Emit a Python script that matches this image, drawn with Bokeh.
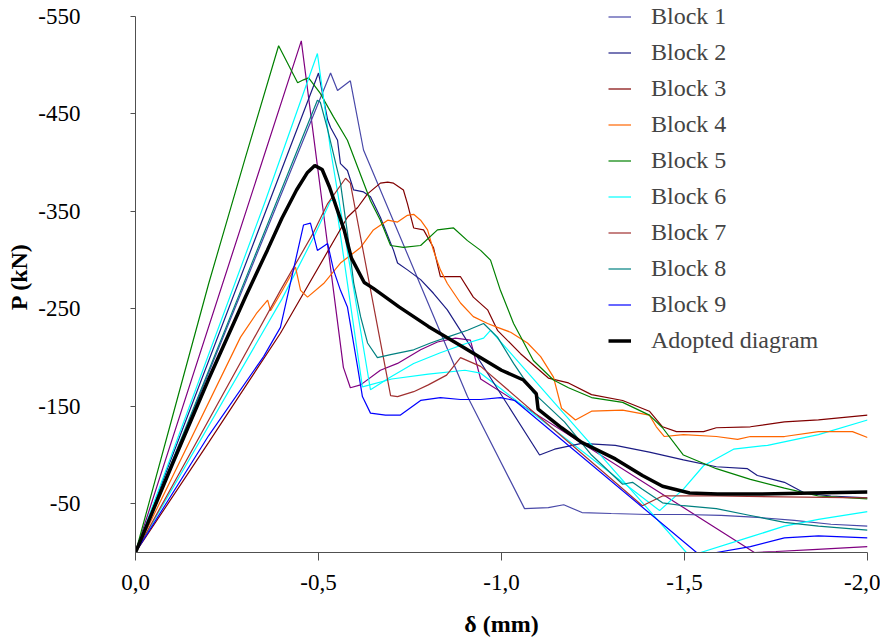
from bokeh.plotting import figure
from bokeh.models import Range1d, FixedTicker, Legend, LegendItem, CustomJSTickFormatter
from bokeh.embed import file_html
from bokeh.resources import INLINE

# ---------------- data (delta in mm, P in kN) ----------------
b1_d = [0, -0.533, -0.552, -0.587, -0.623, -0.907, -1.063, -1.128, -1.17, -1.22, -1.30, -1.40, -1.50, -1.60, -1.70, -1.80, -1.90, -2.0]
b1_p = [0, -492, -474, -484, -413, -160, -45, -46, -49, -41, -40, -39, -39, -38, -36, -33, -29, -27]

b2_d = [0, -0.50, -0.525, -0.533, -0.552, -0.560, -0.579, -0.596, -0.623, -0.642, -0.669, -0.705, -0.716, -0.743, -0.779, -0.814, -0.852, -1.104, -1.145, -1.219, -1.311, -1.404, -1.497, -1.587, -1.672, -1.699, -1.773, -1.828, -1.90, -2.0]
b2_p = [0, -492, -444, -436, -423, -399, -392, -372, -370, -365, -344, -310, -297, -290, -280, -266, -249, -100, -106, -112, -110, -103, -95, -88, -86, -79, -72, -61, -58, -56]

b3_d = [0, -0.20, -0.396, -0.579, -0.607, -0.634, -0.669, -0.689, -0.705, -0.732, -0.743, -0.760, -0.787, -0.814, -0.833, -0.888, -0.923, -0.962, -0.989, -1.052, -1.128, -1.183, -1.246, -1.331, -1.404, -1.44, -1.478, -1.552, -1.587, -1.68, -1.773, -1.866, -2.0]
b3_p = [0, -113, -225, -344, -354, -368, -379, -380, -379, -372, -358, -333, -331, -313, -283, -283, -262, -249, -228, -204, -179, -174, -162, -156, -145, -129, -124, -124, -128, -129, -134, -136, -141]

b4_d = [0, -0.287, -0.33, -0.361, -0.369, -0.40, -0.437, -0.451, -0.47, -0.514, -0.56, -0.615, -0.650, -0.689, -0.716, -0.743, -0.760, -0.779, -0.798, -0.814, -0.833, -0.852, -0.888, -0.923, -0.962, -0.989, -1.025, -1.071, -1.107, -1.142, -1.164, -1.202, -1.246, -1.331, -1.404, -1.423, -1.445, -1.497, -1.587, -1.645, -1.68, -1.773, -1.866, -1.959, -2.0]
b4_p = [0, -221, -245, -259, -248, -268, -293, -269, -262, -276, -297, -313, -331, -341, -339, -346, -347, -341, -331, -310, -290, -276, -256, -242, -235, -231, -226, -215, -201, -180, -148, -136, -145, -146, -141, -129, -119, -121, -119, -116, -119, -119, -124, -124, -118]

b5_d = [0, -0.10, -0.20, -0.30, -0.391, -0.443, -0.459, -0.473, -0.505, -0.541, -0.579, -0.642, -0.669, -0.697, -0.732, -0.779, -0.825, -0.869, -0.907, -0.943, -0.970, -0.997, -1.033, -1.087, -1.142, -1.183, -1.246, -1.331, -1.404, -1.440, -1.497, -1.587, -1.680, -1.773, -1.866, -2.0]
b5_p = [0, -138, -276, -405, -520, -482, -485, -487, -471, -447, -423, -361, -341, -315, -313, -315, -331, -333, -320, -310, -300, -269, -235, -197, -177, -169, -159, -154, -141, -128, -100, -86, -75, -66, -58, -55]

b6_d = [0, -0.355, -0.497, -0.533, -0.642, -0.697, -0.760, -0.833, -0.907, -0.951, -0.970, -1.505, -1.544, -1.68, -1.773, -1.866, -2.0]
b6_p = [0, -361, -512, -413, -167, -180, -194, -205, -215, -220, -228, 0, 0, -16, -27, -34, -42]

b7_d = [0, -0.396, -0.486, -0.525, -0.574, -0.587, -0.697, -0.716, -0.76, -0.80, -0.85, -0.888, -0.943, -1.385, -1.44, -1.587, -2.0]
b7_p = [0, -269, -328, -358, -384, -379, -161, -160, -165, -172, -182, -200, -191, -48, -58, -58, -56]

b8_d = [0, -0.497, -0.505, -0.525, -0.560, -0.579, -0.596, -0.615, -0.634, -0.661, -0.697, -0.760, -0.806, -0.852, -0.907, -0.951, -0.989, -1.033, -1.087, -1.172, -1.246, -1.331, -1.358, -1.385, -1.44, -1.497, -1.587, -1.68, -1.773, -1.866, -2.0]
b8_p = [0, -464, -462, -434, -379, -328, -277, -242, -215, -200, -203, -208, -215, -221, -228, -235, -221, -194, -164, -134, -100, -70, -72, -65, -51, -48, -45, -38, -31, -27, -23]

b9_d = [0, -0.20, -0.35, -0.396, -0.459, -0.478, -0.497, -0.525, -0.541, -0.560, -0.579, -0.593, -0.607, -0.620, -0.642, -0.683, -0.724, -0.779, -0.833, -0.888, -0.943, -0.997, -1.036, -1.533, -1.587, -1.68, -1.773, -1.866, -2.0]
b9_p = [0, -120, -201, -231, -336, -338, -310, -317, -290, -269, -252, -221, -190, -160, -143, -141, -141, -156, -159, -157, -157, -159, -156, 0, 0, -6, -15, -17, -15]

# two further test curves drawn in the figure without a legend entry
ex1_d = [0, -0.453, -0.568, -0.587, -0.615, -0.669, -0.716, -0.779, -0.825, -0.874, -0.915, -0.943, -1.691, -1.75, -1.85, -2.0]
ex1_p = [0, -525, -190, -169, -172, -187, -194, -208, -216, -220, -218, -178, 0, -1, -3, -6]

ex2_d = [0, -0.40, -0.486, -0.533, -0.546, -0.62, -0.70, -0.80, -0.90, -0.943, -1.432, -1.497, -1.552, -1.634, -1.727, -1.866, -2.0]
ex2_p = [0, -260, -323, -361, -362, -170, -178, -183, -187, -184, -43, -65, -89, -106, -110, -121, -136]

ad_d = [0, -0.10, -0.20, -0.30, -0.36, -0.40, -0.44, -0.47, -0.49, -0.51, -0.53, -0.57, -0.59, -0.625, -0.65, -0.72, -0.80, -0.89, -1.0, -1.06, -1.095, -1.10, -1.164, -1.219, -1.311, -1.385, -1.44, -1.514, -1.59, -1.70, -1.85, -2.0]
ad_p = [0, -90, -178, -262, -310, -343, -372, -390, -397, -393, -375, -331, -302, -277, -271, -252, -232, -212, -187, -177, -163, -147, -128, -113, -96, -79, -68, -61, -60, -60, -61, -62]

x_ticks = [0, -0.5, -1.0, -1.5, -2.0]
y_ticks = [-50, -150, -250, -350, -450, -550]

series = [
    ("Block 1", b1_d, b1_p, "#4848a8"),
    ("Block 2", b2_d, b2_p, "#1c1c84"),
    ("Block 3", b3_d, b3_p, "#800000"),
    ("Block 4", b4_d, b4_p, "#ff6600"),
    ("Block 5", b5_d, b5_p, "#008000"),
    ("Block 6", b6_d, b6_p, "#00ffff"),
    ("Block 7", b7_d, b7_p, "#a03030"),
    ("Block 8", b8_d, b8_p, "#008080"),
    ("Block 9", b9_d, b9_p, "#0000ff"),
]
extras = [(ex1_d, ex1_p, "#800080"), (ex2_d, ex2_p, "#00ffff")]

FONT = "Liberation Serif"

# frame runs from the very top of the canvas; the y axis line is bounded to 0..-550
p = figure(width=880, height=639, output_backend="svg", toolbar_location=None,
           x_range=Range1d(0, -2.0), y_range=Range1d(0, -566.4),
           min_border_left=135, min_border_right=13, min_border_top=0, min_border_bottom=87)
p.outline_line_color = None
p.xgrid.visible = False
p.ygrid.visible = False

for d, pp, c in extras:
    p.line(d, pp, line_color=c, line_width=1.2)

items = []
for name, d, pp, c in series:
    r = p.line(d, pp, line_color=c, line_width=1.2)
    items.append(LegendItem(label=name, renderers=[r]))
ra = p.line(ad_d, ad_p, line_color="black", line_width=3.5)
items.append(LegendItem(label="Adopted diagram", renderers=[ra]))

for ax in (p.xaxis[0], p.yaxis[0]):
    ax.axis_line_color = "#505050"
    ax.major_tick_line_color = "#505050"
    ax.minor_tick_line_color = None
    ax.major_tick_in = 0
    ax.major_label_text_font = FONT
    ax.major_label_text_font_size = "23px"
    ax.major_label_text_color = "black"
    ax.axis_label_text_font = FONT
    ax.axis_label_text_font_size = "24px"
    ax.axis_label_text_font_style = "bold"
    ax.axis_label_text_color = "black"

p.xaxis.ticker = FixedTicker(ticks=x_ticks)
p.xaxis.formatter = CustomJSTickFormatter(code="return tick.toFixed(1).replace('.', ',');")
p.xaxis.major_tick_out = 8
p.xaxis.major_label_standoff = 14
p.xaxis.axis_label = "δ (mm)"
p.xaxis.axis_label_standoff = 18

p.yaxis.ticker = FixedTicker(ticks=y_ticks)
p.yaxis.bounds = (-550, 0)
p.yaxis.formatter = CustomJSTickFormatter(code="return tick.toFixed(0);")
p.yaxis.major_tick_out = 5
p.yaxis.major_label_standoff = 50
p.yaxis.axis_label = "P (kN)"
p.yaxis.axis_label_standoff = 3

legend = Legend(items=items, location=(473, 198), padding=0, margin=0, spacing=9,
                glyph_width=23, glyph_height=21, label_height=21, label_standoff=20,
                label_text_font=FONT, label_text_font_size="24px",
                border_line_alpha=0, background_fill_alpha=0)
p.add_layout(legend)

open("out.html", "w").write(file_html(p, INLINE))
